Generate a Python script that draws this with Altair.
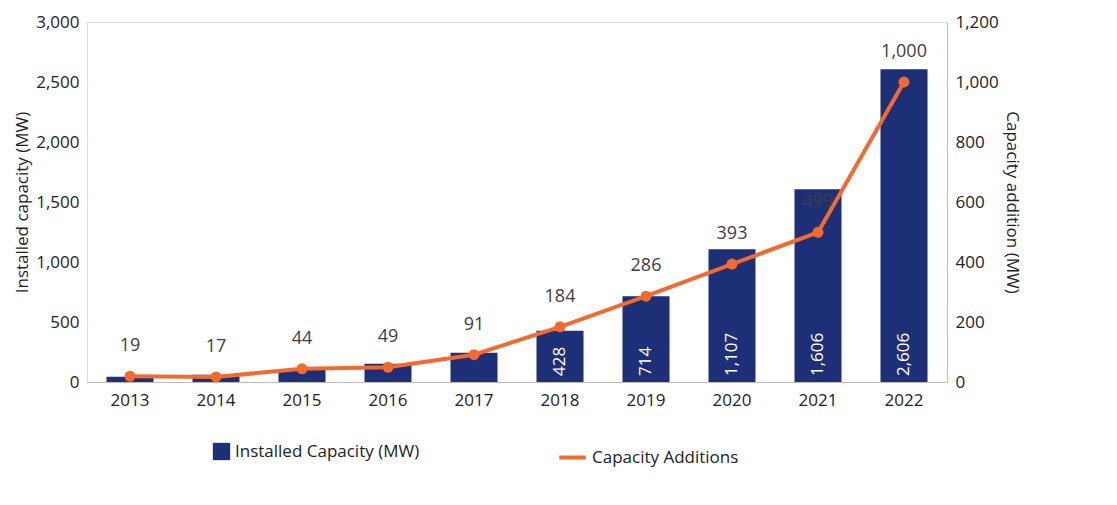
import altair as alt
import pandas as pd

years = ["2013", "2014", "2015", "2016", "2017", "2018", "2019", "2020", "2021", "2022"]
installed = [43, 60, 104, 153, 244, 428, 714, 1107, 1606, 2606]
additions = [19, 17, 44, 49, 91, 184, 286, 393, 499, 1000]
show_inside = [False, False, False, False, False, True, True, True, True, True]

df = pd.DataFrame({"year": years, "installed": installed, "additions": additions,
                   "inside": show_inside})
df["bar_name"] = "Installed Capacity (MW)"
df["line_name"] = "Capacity Additions"

FONT = "Open Sans"
LSCALE = alt.Scale(domain=[0, 3000])
RSCALE = alt.Scale(domain=[0, 1200])
x = alt.X("year:N", title=None, axis=alt.Axis(labelAngle=0, labelFontSize=17, labelColor="#222",
          domainColor="#bbb", ticks=False, labelPadding=10))

bars = alt.Chart(df).mark_bar(size=47).encode(
    x=x,
    y=alt.Y("installed:Q", title="Installed capacity (MW)", scale=LSCALE,
            axis=alt.Axis(values=[0, 500, 1000, 1500, 2000, 2500, 3000], format=",d",
                          grid=False, domain=False, ticks=False, labelFontSize=17,
                          titleFontSize=17, titleFontWeight="normal", labelColor="#222",
                          titleColor="#222", labelPadding=8)),
    color=alt.Color("bar_name:N", title=None, scale=alt.Scale(range=["#1d2f76"]),
                    legend=alt.Legend(orient="none", legendX=125, legendY=420,
                                      symbolType="square", labelFontSize=17, labelLimit=0,
                                      symbolSize=300, labelColor="#222")),
)

inside = alt.Chart(df).transform_filter("datum.inside").mark_text(
    angle=270, align="left", baseline="middle", dx=6, color="white", fontSize=17, font=FONT
).encode(x=x, y=alt.datum(0, scale=LSCALE, axis=None),
         text=alt.Text("installed:Q", format=","))

line = alt.Chart(df).mark_line(strokeWidth=4).encode(
    x=x,
    y=alt.Y("additions:Q", title="Capacity addition (MW)", scale=RSCALE,
            axis=alt.Axis(orient="right", values=[0, 200, 400, 600, 800, 1000, 1200], format=",d",
                          grid=False, domainColor="#bbb", ticks=False, labelFontSize=17,
                          titleFontSize=17, titleFontWeight="normal", labelColor="#222",
                          titleColor="#222", labelPadding=8)),
    stroke=alt.Stroke("line_name:N", title=None, scale=alt.Scale(range=["#f26a2e"]),
                      legend=alt.Legend(orient="none", legendX=470, legendY=420,
                                        symbolType="stroke", symbolStrokeWidth=4,
                                        symbolSize=700, labelFontSize=17, labelLimit=0,
                                        labelColor="#222")),
)
pts = alt.Chart(df).mark_point(filled=True, size=120, color="#f26a2e", opacity=1).encode(
    x=x, y=alt.Y("additions:Q", scale=RSCALE, axis=None))
lbl = alt.Chart(df).mark_text(dy=-30, fontSize=18, color="#404040", font=FONT).encode(
    x=x, y=alt.Y("additions:Q", scale=RSCALE, axis=None),
    text=alt.Text("additions:Q", format=","))

chart = alt.layer(bars, inside, line, pts, lbl).resolve_scale(
    y="independent", color="independent"
).properties(width=860, height=360).configure_view(strokeWidth=0).configure(font=FONT)

chart.save("out.html", embed_options={"renderer": "svg", "actions": False})
